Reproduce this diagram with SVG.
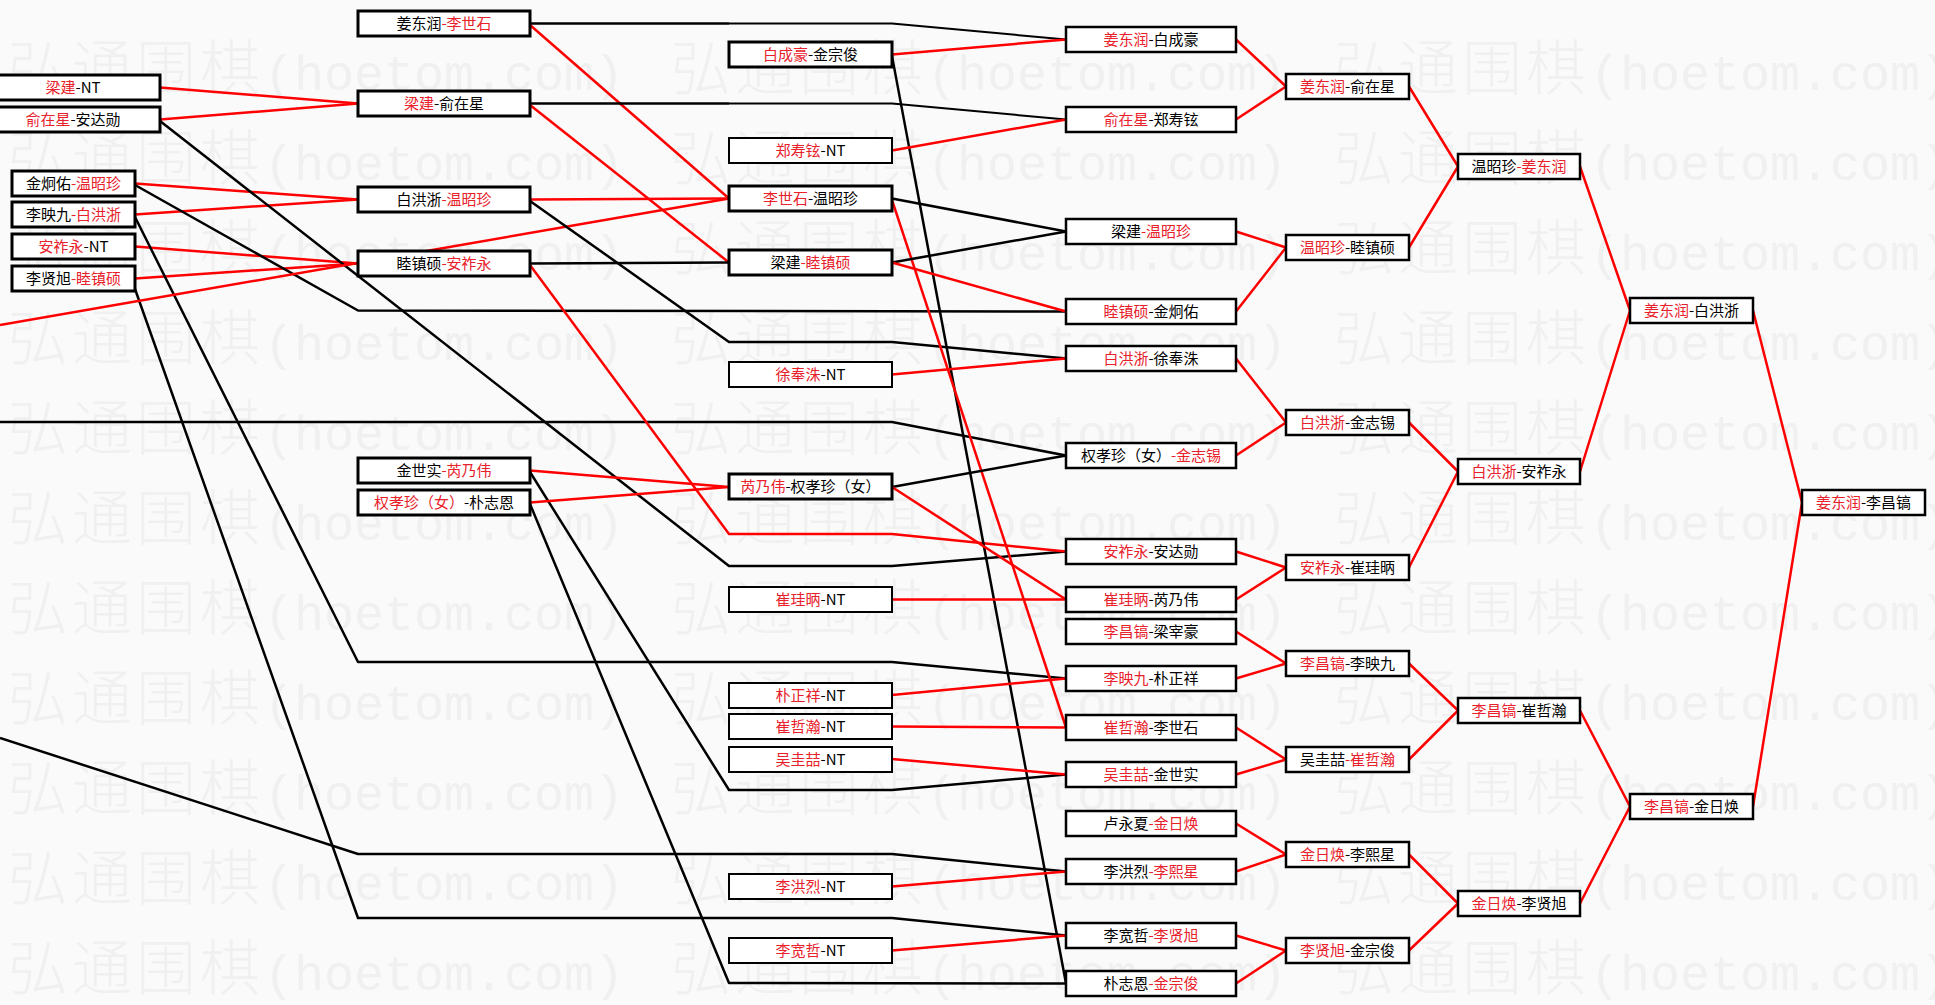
<svg xmlns="http://www.w3.org/2000/svg" width="1935" height="1005" viewBox="0 0 1935 1005">
<defs>
<style>
.bg{fill:#fafafa}
.wm{font-family:"Liberation Mono",monospace;font-size:50px;fill:#f0f0f0}
.wc{font-family:"Noto Sans CJK SC",sans-serif;font-size:60px;letter-spacing:4px;font-weight:300}
.r{fill:none;stroke:#f00;stroke-width:2.5;stroke-linejoin:round}
.k{fill:none;stroke:#000;stroke-width:2.5;stroke-linejoin:round}
.thin{stroke-width:2}
.nd rect{fill:#fff;stroke:#000;stroke-width:2.5}
.th rect{stroke-width:3}
.tn rect{stroke-width:2}
.nd text{font-family:"Noto Sans CJK SC","Liberation Sans",sans-serif;font-size:15px;fill:#000;text-anchor:middle}
.red{fill:#e8212b}
</style>
</defs>
<rect class="bg" x="0" y="0" width="1935" height="1005"/>
<g id="watermark">
<text class="wm" x="8" y="90"><tspan class="wc">弘通围棋</tspan>(hoetom.com)</text><text class="wm" x="671" y="90"><tspan class="wc">弘通围棋</tspan>(hoetom.com)</text><text class="wm" x="1334" y="90"><tspan class="wc">弘通围棋</tspan>(hoetom.com)</text>
<text class="wm" x="8" y="180"><tspan class="wc">弘通围棋</tspan>(hoetom.com)</text><text class="wm" x="671" y="180"><tspan class="wc">弘通围棋</tspan>(hoetom.com)</text><text class="wm" x="1334" y="180"><tspan class="wc">弘通围棋</tspan>(hoetom.com)</text>
<text class="wm" x="8" y="270"><tspan class="wc">弘通围棋</tspan>(hoetom.com)</text><text class="wm" x="671" y="270"><tspan class="wc">弘通围棋</tspan>(hoetom.com)</text><text class="wm" x="1334" y="270"><tspan class="wc">弘通围棋</tspan>(hoetom.com)</text>
<text class="wm" x="8" y="360"><tspan class="wc">弘通围棋</tspan>(hoetom.com)</text><text class="wm" x="671" y="360"><tspan class="wc">弘通围棋</tspan>(hoetom.com)</text><text class="wm" x="1334" y="360"><tspan class="wc">弘通围棋</tspan>(hoetom.com)</text>
<text class="wm" x="8" y="450"><tspan class="wc">弘通围棋</tspan>(hoetom.com)</text><text class="wm" x="671" y="450"><tspan class="wc">弘通围棋</tspan>(hoetom.com)</text><text class="wm" x="1334" y="450"><tspan class="wc">弘通围棋</tspan>(hoetom.com)</text>
<text class="wm" x="8" y="540"><tspan class="wc">弘通围棋</tspan>(hoetom.com)</text><text class="wm" x="671" y="540"><tspan class="wc">弘通围棋</tspan>(hoetom.com)</text><text class="wm" x="1334" y="540"><tspan class="wc">弘通围棋</tspan>(hoetom.com)</text>
<text class="wm" x="8" y="630"><tspan class="wc">弘通围棋</tspan>(hoetom.com)</text><text class="wm" x="671" y="630"><tspan class="wc">弘通围棋</tspan>(hoetom.com)</text><text class="wm" x="1334" y="630"><tspan class="wc">弘通围棋</tspan>(hoetom.com)</text>
<text class="wm" x="8" y="720"><tspan class="wc">弘通围棋</tspan>(hoetom.com)</text><text class="wm" x="671" y="720"><tspan class="wc">弘通围棋</tspan>(hoetom.com)</text><text class="wm" x="1334" y="720"><tspan class="wc">弘通围棋</tspan>(hoetom.com)</text>
<text class="wm" x="8" y="810"><tspan class="wc">弘通围棋</tspan>(hoetom.com)</text><text class="wm" x="671" y="810"><tspan class="wc">弘通围棋</tspan>(hoetom.com)</text><text class="wm" x="1334" y="810"><tspan class="wc">弘通围棋</tspan>(hoetom.com)</text>
<text class="wm" x="8" y="900"><tspan class="wc">弘通围棋</tspan>(hoetom.com)</text><text class="wm" x="671" y="900"><tspan class="wc">弘通围棋</tspan>(hoetom.com)</text><text class="wm" x="1334" y="900"><tspan class="wc">弘通围棋</tspan>(hoetom.com)</text>
<text class="wm" x="8" y="990"><tspan class="wc">弘通围棋</tspan>(hoetom.com)</text><text class="wm" x="671" y="990"><tspan class="wc">弘通围棋</tspan>(hoetom.com)</text><text class="wm" x="1334" y="990"><tspan class="wc">弘通围棋</tspan>(hoetom.com)</text>
</g>
<g id="connectors">
<polyline class="r" points="160,87.5 358,103.5"/>
<polyline class="r" points="160,119.5 358,103.5"/>
<polyline class="r" points="135,183.5 358,199.5"/>
<polyline class="r" points="135,214.5 358,199.5"/>
<polyline class="r" points="135,246.5 358,263.5"/>
<polyline class="r" points="135,278.5 358,263.5"/>
<polyline class="k" points="160,121 729,566 892,566 1066,551.5"/>
<polyline class="k" points="135,185 358,310.5 1066,311.5"/>
<polyline class="k" points="135,217 358,662 892,662 1066,678.5"/>
<polyline class="k" points="135,289 358,918 892,918 1066,935.5"/>
<polyline class="r" points="0,325 729,198.5"/>
<polyline class="k" points="0,422 892,422 1066,455.5"/>
<polyline class="k" points="0,738 358,854 892,854 1066,871.5"/>
<polyline class="k" points="530,23.5 729,23.5"/>
<polyline class="k thin" points="729,23.5 892,23.5 1066,39.5"/>
<polyline class="r" points="530,25 729,198.5"/>
<polyline class="k" points="530,103.5 729,103.5"/>
<polyline class="k thin" points="729,103.5 892,103.5 1066,119.5"/>
<polyline class="r" points="530,105 729,262.5"/>
<polyline class="r" points="530,199.5 729,198.5"/>
<polyline class="k" points="530,201 729,342 892,342 1066,358.5"/>
<polyline class="k" points="530,263.5 729,262.5"/>
<polyline class="r" points="530,265 729,534 892,534 1066,551.5"/>
<polyline class="r" points="530,470.5 729,487"/>
<polyline class="k" points="530,472 729,790 892,790 1066,774.5"/>
<polyline class="r" points="530,502.5 729,487"/>
<polyline class="k" points="530,504 729,983 1066,983.5"/>
<polyline class="r" points="892,54.5 1066,39.5"/>
<polyline class="k" points="892,56 1066,983.5"/>
<polyline class="r" points="892,150.5 1066,119.5"/>
<polyline class="k" points="892,198.5 1066,231.5"/>
<polyline class="r" points="892,200 1066,727.5"/>
<polyline class="k" points="892,262.5 1066,231.5"/>
<polyline class="r" points="892,262.5 1066,311.5"/>
<polyline class="r" points="892,374.5 1066,358.5"/>
<polyline class="k" points="892,487 1066,455.5"/>
<polyline class="r" points="892,487 1066,599.5"/>
<polyline class="r" points="892,599.5 1066,599.5"/>
<polyline class="r" points="892,695 1066,678.5"/>
<polyline class="r" points="892,726.5 1066,727.5"/>
<polyline class="r" points="892,759 1066,774.5"/>
<polyline class="r" points="892,886.5 1066,871.5"/>
<polyline class="r" points="892,950.5 1066,935.5"/>
<polyline class="r" points="1236,39.5 1286,86.5 1236,119.5"/>
<polyline class="r" points="1236,231.5 1286,247.5 1236,311.5"/>
<polyline class="r" points="1236,358.5 1286,422.5 1236,455.5"/>
<polyline class="r" points="1236,551.5 1286,567.5 1236,599.5"/>
<polyline class="r" points="1236,631.5 1286,663.5 1236,678.5"/>
<polyline class="r" points="1236,727.5 1286,759.5 1236,774.5"/>
<polyline class="r" points="1236,823.5 1286,854.5 1236,871.5"/>
<polyline class="r" points="1236,935.5 1286,950.5 1236,983.5"/>
<polyline class="r" points="1409,86.5 1458,166.5 1409,247.5"/>
<polyline class="r" points="1409,422.5 1458,471.5 1409,567.5"/>
<polyline class="r" points="1409,663.5 1458,710.5 1409,759.5"/>
<polyline class="r" points="1409,854.5 1458,903.5 1409,950.5"/>
<polyline class="r" points="1580,166.5 1630,310.5 1580,471.5"/>
<polyline class="r" points="1580,710.5 1630,806.5 1580,903.5"/>
<polyline class="r" points="1753,310.5 1802,502.5 1753,806.5"/>
</g>
<g id="n1-1" class="nd th"><rect x="-14" y="75" width="174" height="25"/><text x="73" y="93"><tspan class="red">梁建</tspan>-NT</text></g>
<g id="n1-2" class="nd th"><rect x="-14" y="107" width="174" height="25"/><text x="73" y="125"><tspan class="red">俞在星</tspan>-安达勋</text></g>
<g id="n1-3" class="nd th"><rect x="12" y="171" width="123" height="25"/><text x="73.5" y="189">金炯佑<tspan class="red">-温昭珍</tspan></text></g>
<g id="n1-4" class="nd th"><rect x="12" y="202" width="123" height="25"/><text x="73.5" y="220">李映九<tspan class="red">-白洪浙</tspan></text></g>
<g id="n1-5" class="nd th"><rect x="12" y="234" width="123" height="25"/><text x="73.5" y="252"><tspan class="red">安祚永</tspan>-NT</text></g>
<g id="n1-6" class="nd th"><rect x="12" y="266" width="123" height="25"/><text x="73.5" y="284">李贤旭<tspan class="red">-睦镇硕</tspan></text></g>
<g id="n2-1" class="nd th"><rect x="358" y="11" width="172" height="25"/><text x="444" y="29">姜东润<tspan class="red">-李世石</tspan></text></g>
<g id="n2-2" class="nd th"><rect x="358" y="91" width="172" height="25"/><text x="444" y="109"><tspan class="red">梁建</tspan>-俞在星</text></g>
<g id="n2-3" class="nd th"><rect x="358" y="187" width="172" height="25"/><text x="444" y="205">白洪浙<tspan class="red">-温昭珍</tspan></text></g>
<g id="n2-4" class="nd th"><rect x="358" y="251" width="172" height="25"/><text x="444" y="269">睦镇硕<tspan class="red">-安祚永</tspan></text></g>
<g id="n2-5" class="nd th"><rect x="358" y="458" width="172" height="25"/><text x="444" y="476">金世实<tspan class="red">-芮乃伟</tspan></text></g>
<g id="n2-6" class="nd th"><rect x="358" y="490" width="172" height="25"/><text x="444" y="508"><tspan class="red">权孝珍（女）</tspan>-朴志恩</text></g>
<g id="n3-1" class="nd th"><rect x="729" y="42" width="163" height="25"/><text x="810.5" y="60"><tspan class="red">白成豪</tspan>-金宗俊</text></g>
<g id="n3-2" class="nd tn"><rect x="729" y="138" width="163" height="25"/><text x="810.5" y="156"><tspan class="red">郑寿铉</tspan>-NT</text></g>
<g id="n3-3" class="nd th"><rect x="729" y="186" width="163" height="25"/><text x="810.5" y="204"><tspan class="red">李世石</tspan>-温昭珍</text></g>
<g id="n3-4" class="nd th"><rect x="729" y="250" width="163" height="25"/><text x="810.5" y="268">梁建<tspan class="red">-睦镇硕</tspan></text></g>
<g id="n3-5" class="nd tn"><rect x="729" y="362" width="163" height="25"/><text x="810.5" y="380"><tspan class="red">徐奉洙</tspan>-NT</text></g>
<g id="n3-6" class="nd th"><rect x="729" y="474" width="163" height="25"/><text x="810.5" y="492"><tspan class="red">芮乃伟</tspan>-权孝珍（女）</text></g>
<g id="n3-7" class="nd tn"><rect x="729" y="587" width="163" height="25"/><text x="810.5" y="605"><tspan class="red">崔珪昞</tspan>-NT</text></g>
<g id="n3-8" class="nd tn"><rect x="729" y="683" width="163" height="25"/><text x="810.5" y="701"><tspan class="red">朴正祥</tspan>-NT</text></g>
<g id="n3-9" class="nd tn"><rect x="729" y="714" width="163" height="25"/><text x="810.5" y="732"><tspan class="red">崔哲瀚</tspan>-NT</text></g>
<g id="n3-10" class="nd tn"><rect x="729" y="747" width="163" height="25"/><text x="810.5" y="765"><tspan class="red">吴圭喆</tspan>-NT</text></g>
<g id="n3-11" class="nd tn"><rect x="729" y="874" width="163" height="25"/><text x="810.5" y="892"><tspan class="red">李洪烈</tspan>-NT</text></g>
<g id="n3-12" class="nd tn"><rect x="729" y="938" width="163" height="25"/><text x="810.5" y="956"><tspan class="red">李宽哲</tspan>-NT</text></g>
<g id="n4-1" class="nd"><rect x="1066" y="27" width="170" height="25"/><text x="1151" y="45"><tspan class="red">姜东润</tspan>-白成豪</text></g>
<g id="n4-2" class="nd"><rect x="1066" y="107" width="170" height="25"/><text x="1151" y="125"><tspan class="red">俞在星</tspan>-郑寿铉</text></g>
<g id="n4-3" class="nd"><rect x="1066" y="219" width="170" height="25"/><text x="1151" y="237">梁建<tspan class="red">-温昭珍</tspan></text></g>
<g id="n4-4" class="nd"><rect x="1066" y="299" width="170" height="25"/><text x="1151" y="317"><tspan class="red">睦镇硕</tspan>-金炯佑</text></g>
<g id="n4-5" class="nd"><rect x="1066" y="346" width="170" height="25"/><text x="1151" y="364"><tspan class="red">白洪浙</tspan>-徐奉洙</text></g>
<g id="n4-6" class="nd"><rect x="1066" y="443" width="170" height="25"/><text x="1151" y="461">权孝珍（女）<tspan class="red">-金志锡</tspan></text></g>
<g id="n4-7" class="nd"><rect x="1066" y="539" width="170" height="25"/><text x="1151" y="557"><tspan class="red">安祚永</tspan>-安达勋</text></g>
<g id="n4-8" class="nd"><rect x="1066" y="587" width="170" height="25"/><text x="1151" y="605"><tspan class="red">崔珪昞</tspan>-芮乃伟</text></g>
<g id="n4-9" class="nd"><rect x="1066" y="619" width="170" height="25"/><text x="1151" y="637"><tspan class="red">李昌镐</tspan>-梁宰豪</text></g>
<g id="n4-10" class="nd"><rect x="1066" y="666" width="170" height="25"/><text x="1151" y="684"><tspan class="red">李映九</tspan>-朴正祥</text></g>
<g id="n4-11" class="nd"><rect x="1066" y="715" width="170" height="25"/><text x="1151" y="733"><tspan class="red">崔哲瀚</tspan>-李世石</text></g>
<g id="n4-12" class="nd"><rect x="1066" y="762" width="170" height="25"/><text x="1151" y="780"><tspan class="red">吴圭喆</tspan>-金世实</text></g>
<g id="n4-13" class="nd"><rect x="1066" y="811" width="170" height="25"/><text x="1151" y="829">卢永夏<tspan class="red">-金日焕</tspan></text></g>
<g id="n4-14" class="nd"><rect x="1066" y="859" width="170" height="25"/><text x="1151" y="877">李洪烈<tspan class="red">-李熙星</tspan></text></g>
<g id="n4-15" class="nd"><rect x="1066" y="923" width="170" height="25"/><text x="1151" y="941">李宽哲<tspan class="red">-李贤旭</tspan></text></g>
<g id="n4-16" class="nd"><rect x="1066" y="971" width="170" height="25"/><text x="1151" y="989">朴志恩<tspan class="red">-金宗俊</tspan></text></g>
<g id="n5-1" class="nd"><rect x="1286" y="74" width="123" height="25"/><text x="1347.5" y="92"><tspan class="red">姜东润</tspan>-俞在星</text></g>
<g id="n5-2" class="nd"><rect x="1286" y="235" width="123" height="25"/><text x="1347.5" y="253"><tspan class="red">温昭珍</tspan>-睦镇硕</text></g>
<g id="n5-3" class="nd"><rect x="1286" y="410" width="123" height="25"/><text x="1347.5" y="428"><tspan class="red">白洪浙</tspan>-金志锡</text></g>
<g id="n5-4" class="nd"><rect x="1286" y="555" width="123" height="25"/><text x="1347.5" y="573"><tspan class="red">安祚永</tspan>-崔珪昞</text></g>
<g id="n5-5" class="nd"><rect x="1286" y="651" width="123" height="25"/><text x="1347.5" y="669"><tspan class="red">李昌镐</tspan>-李映九</text></g>
<g id="n5-6" class="nd"><rect x="1286" y="747" width="123" height="25"/><text x="1347.5" y="765">吴圭喆<tspan class="red">-崔哲瀚</tspan></text></g>
<g id="n5-7" class="nd"><rect x="1286" y="842" width="123" height="25"/><text x="1347.5" y="860"><tspan class="red">金日焕</tspan>-李熙星</text></g>
<g id="n5-8" class="nd"><rect x="1286" y="938" width="123" height="25"/><text x="1347.5" y="956"><tspan class="red">李贤旭</tspan>-金宗俊</text></g>
<g id="n6-1" class="nd"><rect x="1458" y="154" width="122" height="25"/><text x="1519" y="172">温昭珍<tspan class="red">-姜东润</tspan></text></g>
<g id="n6-2" class="nd"><rect x="1458" y="459" width="122" height="25"/><text x="1519" y="477"><tspan class="red">白洪浙</tspan>-安祚永</text></g>
<g id="n6-3" class="nd"><rect x="1458" y="698" width="122" height="25"/><text x="1519" y="716"><tspan class="red">李昌镐</tspan>-崔哲瀚</text></g>
<g id="n6-4" class="nd"><rect x="1458" y="891" width="122" height="25"/><text x="1519" y="909"><tspan class="red">金日焕</tspan>-李贤旭</text></g>
<g id="n7-1" class="nd"><rect x="1630" y="298" width="123" height="25"/><text x="1691.5" y="316"><tspan class="red">姜东润</tspan>-白洪浙</text></g>
<g id="n7-2" class="nd"><rect x="1630" y="794" width="123" height="25"/><text x="1691.5" y="812"><tspan class="red">李昌镐</tspan>-金日焕</text></g>
<g id="n8-1" class="nd"><rect x="1802" y="490" width="123" height="25"/><text x="1863.5" y="508"><tspan class="red">姜东润</tspan>-李昌镐</text></g>
</svg>
